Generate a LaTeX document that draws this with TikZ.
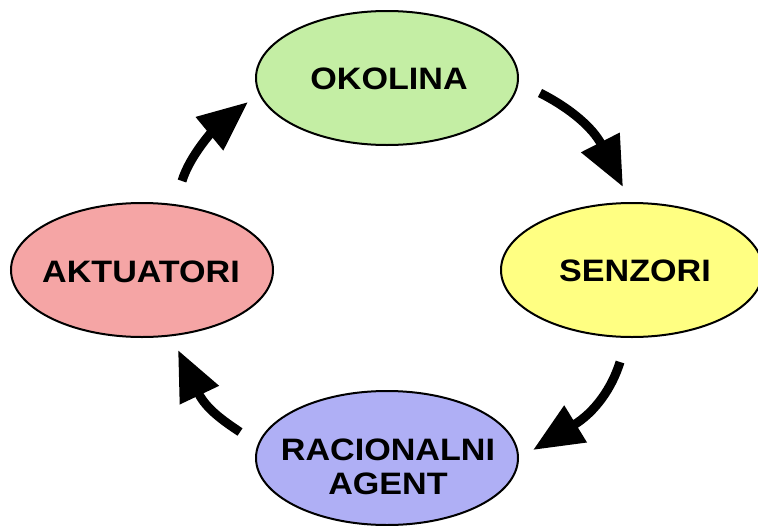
\documentclass[tikz,border=0pt]{standalone}
\usepackage{fontspec}
\usetikzlibrary{shapes.geometric,arrows.meta}
\newfontfamily\lblfont{Liberation Sans}[FakeStretch=1.1]
\definecolor{okgreen}{RGB}{196,238,164}
\definecolor{senyellow}{RGB}{255,255,130}
\definecolor{aktpink}{RGB}{245,165,165}
\definecolor{agblue}{RGB}{175,175,245}
\tikzset{
  ell/.style={ellipse, draw=black, line width=2pt, minimum width=262pt, minimum height=134pt, inner sep=0pt},
  lbl/.style={inner sep=0pt, font=\lblfont\bfseries\fontsize{31}{33.5}\selectfont},
  cyc/.style={line width=9pt, -{Triangle[length=50pt,width=41pt]}}
}
\begin{document}
\begin{tikzpicture}[x=1pt,y=-1pt]
\useasboundingbox (0,0) rectangle (758,525);
\node[ell, fill=okgreen] (okolina) at (387,78) {};
\node[ell, fill=senyellow] (senzori) at (632,270) {};
\node[ell, fill=aktpink] (aktuatori) at (142,270) {};
\node[ell, fill=agblue] (agent) at (387,458) {};
\node[lbl] (okolinatxt) at (389,79) {OKOLINA};
\node[lbl] (senzoritxt) at (635,271) {SENZORI};
\node[lbl] (aktuatoritxt) at (141,272) {AKTUATORI};
\node[lbl, align=center] (agenttxt) at (388,467) {RACIONALNI\\AGENT};
% arrow end points
\coordinate (a1s) at (182,181);
\coordinate (a1e) at (248,102);
\coordinate (a2s) at (540,93);
\coordinate (a2e) at (623,187);
\coordinate (a3s) at (620,362);
\coordinate (a3e) at (533,450);
\coordinate (a4s) at (240,432);
\coordinate (a4e) at (178,350);
\draw[cyc] (a1s) .. controls (190,155) and (214,130) .. (a1e);
\draw[cyc] (a2s) .. controls (570,108) and (593,128) .. (a2e);
\draw[cyc] (a3s) .. controls (612,388) and (595,412) .. (a3e);
\draw[cyc] (a4s) .. controls (225,422) and (206,409) .. (a4e);
\end{tikzpicture}
\end{document}
